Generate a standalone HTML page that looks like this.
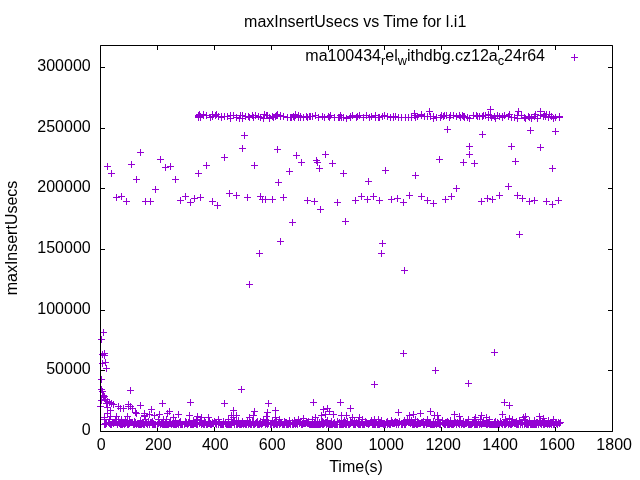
<!DOCTYPE html><html><head><meta charset="utf-8"><style>html,body{margin:0;padding:0;background:#fff;}svg{display:block;will-change:transform;}text{font-family:"Liberation Sans",sans-serif;font-size:16px;fill:#000;}</style></head><body>
<svg width="640" height="480" viewBox="0 0 640 480">
<path d="M100.5 431.5h4.5M612.5 431.5h-4.5M100.5 370.5h4.5M612.5 370.5h-4.5M100.5 310.5h4.5M612.5 310.5h-4.5M100.5 249.5h4.5M612.5 249.5h-4.5M100.5 188.5h4.5M612.5 188.5h-4.5M100.5 128.5h4.5M612.5 128.5h-4.5M100.5 67.5h4.5M612.5 67.5h-4.5M100.5 431.5v-4.5M100.5 45.5v4.5M157.5 431.5v-4.5M157.5 45.5v4.5M214.5 431.5v-4.5M214.5 45.5v4.5M271.5 431.5v-4.5M271.5 45.5v4.5M328.5 431.5v-4.5M328.5 45.5v4.5M384.5 431.5v-4.5M384.5 45.5v4.5M441.5 431.5v-4.5M441.5 45.5v4.5M498.5 431.5v-4.5M498.5 45.5v4.5M555.5 431.5v-4.5M555.5 45.5v4.5M612.5 431.5v-4.5M612.5 45.5v4.5" stroke="#000" stroke-width="1" fill="none"/>
<text x="90.7" y="434.7" text-anchor="end">0</text>
<text x="90.7" y="373.7" text-anchor="end">50000</text>
<text x="90.7" y="313.7" text-anchor="end">100000</text>
<text x="90.7" y="252.7" text-anchor="end">150000</text>
<text x="90.7" y="191.7" text-anchor="end">200000</text>
<text x="90.7" y="131.7" text-anchor="end">250000</text>
<text x="90.7" y="70.7" text-anchor="end">300000</text>
<text x="101.25" y="449.9" text-anchor="middle">0</text>
<text x="158.24" y="449.9" text-anchor="middle">200</text>
<text x="215.23" y="449.9" text-anchor="middle">400</text>
<text x="272.21" y="449.9" text-anchor="middle">600</text>
<text x="329.20" y="449.9" text-anchor="middle">800</text>
<text x="386.19" y="449.9" text-anchor="middle">1000</text>
<text x="443.18" y="449.9" text-anchor="middle">1200</text>
<text x="500.17" y="449.9" text-anchor="middle">1400</text>
<text x="557.15" y="449.9" text-anchor="middle">1600</text>
<text x="614.14" y="449.9" text-anchor="middle">1800</text>
<text x="355.2" y="27" text-anchor="middle">maxInsertUsecs vs Time for l.i1</text>
<text x="356" y="472" text-anchor="middle">Time(s)</text>
<text transform="translate(17,238) rotate(-90)" text-anchor="middle">maxInsertUsecs</text>
<text x="545" y="61" text-anchor="end">ma100434<tspan dy="4" font-size="12.8px">r</tspan><tspan dy="-4">el</tspan><tspan dy="4" font-size="12.8px">w</tspan><tspan dy="-4">ithdbg.cz12a</tspan><tspan dy="4" font-size="12.8px">c</tspan><tspan dy="-4">24r64</tspan></text>
<path d="M571 57.5h7M574.5 54v7M104 166.5h7M107.5 163v7M108 173.5h7M111.5 170v7M113 197.5h7M116.5 194v7M118 196.5h7M121.5 193v7M123 201.5h7M126.5 198v7M128 164.5h7M131.5 161v7M133 179.5h7M136.5 176v7M137 152.5h7M140.5 149v7M142 201.5h7M145.5 198v7M147 201.5h7M150.5 198v7M152 189.5h7M155.5 186v7M157 159.5h7M160.5 156v7M162 167.5h7M165.5 164v7M167 166.5h7M170.5 163v7M172 179.5h7M175.5 176v7M177 200.5h7M180.5 197v7M182 196.5h7M185.5 193v7M187 202.5h7M190.5 199v7M191 198.5h7M194.5 195v7M197 197.5h7M200.5 194v7M195 173.5h7M198.5 170v7M203 165.5h7M206.5 162v7M209 201.5h7M212.5 198v7M214 205.5h7M217.5 202v7M241 135.5h7M244.5 132v7M239 148.5h7M242.5 145v7M221 157.5h7M224.5 154v7M251 165.5h7M254.5 162v7M274 149.5h7M277.5 146v7M293 155.5h7M296.5 152v7M298 162.5h7M301.5 159v7M313 160.5h7M316.5 157v7M314 162.5h7M317.5 159v7M322 154.5h7M325.5 151v7M329 163.5h7M332.5 160v7M316 168.5h7M319.5 165v7M286 171.5h7M289.5 168v7M275 182.5h7M278.5 179v7M226 193.5h7M229.5 190v7M233 195.5h7M236.5 192v7M244 197.5h7M247.5 194v7M257 196.5h7M260.5 193v7M259 199.5h7M262.5 196v7M262 199.5h7M265.5 196v7M269 199.5h7M272.5 196v7M280 197.5h7M283.5 194v7M304 200.5h7M307.5 197v7M311 201.5h7M314.5 198v7M317 209.5h7M320.5 206v7M334 202.5h7M337.5 199v7M444 129.5h7M447.5 126v7M436 159.5h7M439.5 156v7M340 173.5h7M343.5 170v7M382 170.5h7M385.5 167v7M365 181.5h7M368.5 178v7M412 175.5h7M415.5 172v7M453 188.5h7M456.5 185v7M352 200.5h7M355.5 197v7M358 196.5h7M361.5 193v7M364 199.5h7M367.5 196v7M370 196.5h7M373.5 193v7M376 200.5h7M379.5 197v7M388 199.5h7M391.5 196v7M394 198.5h7M397.5 195v7M400 202.5h7M403.5 199v7M406 195.5h7M409.5 192v7M418 196.5h7M421.5 193v7M424 200.5h7M427.5 197v7M430 203.5h7M433.5 200v7M442 199.5h7M445.5 196v7M448 196.5h7M451.5 193v7M479 134.5h7M482.5 131v7M466 146.5h7M469.5 143v7M466 154.5h7M469.5 151v7M460 162.5h7M463.5 159v7M471 163.5h7M474.5 160v7M527 130.5h7M530.5 127v7M552 131.5h7M555.5 128v7M508 146.5h7M511.5 143v7M537 147.5h7M540.5 144v7M512 161.5h7M515.5 158v7M549 168.5h7M552.5 165v7M505 186.5h7M508.5 183v7M478 201.5h7M481.5 198v7M484 198.5h7M487.5 195v7M489 199.5h7M492.5 196v7M496 195.5h7M499.5 192v7M514 195.5h7M517.5 192v7M519 198.5h7M522.5 195v7M526 201.5h7M529.5 198v7M531 200.5h7M534.5 197v7M543 201.5h7M546.5 198v7M549 204.5h7M552.5 201v7M555 200.5h7M558.5 197v7M289 222.5h7M292.5 219v7M277 241.5h7M280.5 238v7M256 253.5h7M259.5 250v7M246 284.5h7M249.5 281v7M342 221.5h7M345.5 218v7M379 243.5h7M382.5 240v7M378 253.5h7M381.5 250v7M401 270.5h7M404.5 267v7M516 234.5h7M519.5 231v7M100 332.5h7M103.5 329v7M98 339.5h7M101.5 336v7M99 354.5h7M102.5 351v7M101 353.5h7M104.5 350v7M101 355.5h7M104.5 352v7M99 363.5h7M102.5 360v7M102 362.5h7M105.5 359v7M103 368.5h7M106.5 365v7M98 379.5h7M101.5 376v7M127 390.5h7M130.5 387v7M238 389.5h7M241.5 386v7M400 353.5h7M403.5 350v7M432 370.5h7M435.5 367v7M371 384.5h7M374.5 381v7M491 352.5h7M494.5 349v7M465 383.5h7M468.5 380v7M426 111.5h7M429.5 108v7M487 109.5h7M490.5 106v7M515 111.5h7M518.5 108v7M537 111.5h7M540.5 108v7M411 113.5h7M414.5 110v7M98 389.5h7M101.5 386v7M99 391.5h7M102.5 388v7M137 405.5h7M140.5 402v7M159 403.5h7M162.5 400v7M148 409.5h7M151.5 406v7M166 411.5h7M169.5 408v7M170 417.5h7M173.5 414v7M141 413.5h7M144.5 410v7M133 413.5h7M136.5 410v7M187 402.5h7M190.5 399v7M175 414.5h7M178.5 411v7M186 415.5h7M189.5 412v7M194 416.5h7M197.5 413v7M198 417.5h7M201.5 414v7M205 417.5h7M208.5 414v7M221 403.5h7M224.5 400v7M230 410.5h7M233.5 407v7M251 411.5h7M254.5 408v7M228 415.5h7M231.5 412v7M233 415.5h7M236.5 412v7M230 417.5h7M233.5 414v7M246 417.5h7M249.5 414v7M250 415.5h7M253.5 412v7M265 403.5h7M268.5 400v7M272 410.5h7M275.5 407v7M264 412.5h7M267.5 409v7M263 416.5h7M266.5 413v7M272 417.5h7M275.5 414v7M310 402.5h7M313.5 399v7M320 409.5h7M323.5 406v7M324 408.5h7M327.5 405v7M326 411.5h7M329.5 408v7M318 415.5h7M321.5 412v7M330 414.5h7M333.5 411v7M312 417.5h7M315.5 414v7M300 418.5h7M303.5 415v7M322 414.5h7M325.5 411v7M337 402.5h7M340.5 399v7M347 408.5h7M350.5 405v7M338 415.5h7M341.5 412v7M343 415.5h7M346.5 412v7M349 417.5h7M352.5 414v7M356 417.5h7M359.5 414v7M395 412.5h7M398.5 409v7M406 415.5h7M409.5 412v7M410 414.5h7M413.5 411v7M417 413.5h7M420.5 410v7M427 411.5h7M430.5 408v7M431 415.5h7M434.5 412v7M434 415.5h7M437.5 412v7M451 414.5h7M454.5 411v7M456 416.5h7M459.5 413v7M478 415.5h7M481.5 412v7M472 417.5h7M475.5 414v7M483 417.5h7M486.5 414v7M501 402.5h7M504.5 399v7M506 405.5h7M509.5 402v7M499 414.5h7M502.5 411v7M522 416.5h7M525.5 413v7M520 417.5h7M523.5 414v7M506 418.5h7M509.5 415v7M536 416.5h7M539.5 413v7M540 418.5h7M543.5 415v7M141 416.5h7M144.5 413v7M146 414.5h7M149.5 411v7M151 415.5h7M154.5 412v7M156 414.5h7M159.5 411v7M164 413.5h7M167.5 410v7M195 116.5h7M198.5 113v7M196 114.5h7M199.5 111v7M197 116.5h7M200.5 113v7M197 117.5h7M200.5 114v7M200 115.5h7M203.5 112v7M200 114.5h7M203.5 111v7M203 115.5h7M206.5 112v7M207 117.5h7M210.5 114v7M209 116.5h7M212.5 113v7M209 114.5h7M212.5 111v7M212 115.5h7M215.5 112v7M213 114.5h7M216.5 111v7M215 116.5h7M218.5 113v7M218 116.5h7M221.5 113v7M218 117.5h7M221.5 114v7M221 116.5h7M224.5 113v7M224 116.5h7M227.5 113v7M227 118.5h7M230.5 115v7M227 115.5h7M230.5 112v7M230 115.5h7M233.5 112v7M233 117.5h7M236.5 114v7M236 118.5h7M239.5 115v7M237 115.5h7M240.5 112v7M239 115.5h7M242.5 112v7M239 118.5h7M242.5 115v7M242 116.5h7M245.5 113v7M245 116.5h7M248.5 113v7M246 117.5h7M249.5 114v7M249 115.5h7M252.5 112v7M250 117.5h7M253.5 114v7M252 115.5h7M255.5 112v7M255 116.5h7M258.5 113v7M257 117.5h7M260.5 114v7M260 118.5h7M263.5 115v7M261 114.5h7M264.5 111v7M263 115.5h7M266.5 112v7M264 115.5h7M267.5 112v7M266 118.5h7M269.5 115v7M266 117.5h7M269.5 114v7M269 116.5h7M272.5 113v7M270 117.5h7M273.5 114v7M272 116.5h7M275.5 113v7M273 115.5h7M276.5 112v7M274 115.5h7M277.5 112v7M274 114.5h7M277.5 111v7M277 116.5h7M280.5 113v7M277 115.5h7M280.5 112v7M280 116.5h7M283.5 113v7M284 117.5h7M287.5 114v7M287 117.5h7M290.5 114v7M288 117.5h7M291.5 114v7M290 116.5h7M293.5 113v7M291 117.5h7M294.5 114v7M292 115.5h7M295.5 112v7M292 114.5h7M295.5 111v7M295 115.5h7M298.5 112v7M295 117.5h7M298.5 114v7M297 116.5h7M300.5 113v7M297 117.5h7M300.5 114v7M300 117.5h7M303.5 114v7M303 116.5h7M306.5 113v7M304 117.5h7M307.5 114v7M306 116.5h7M309.5 113v7M307 116.5h7M310.5 113v7M309 116.5h7M312.5 113v7M312 115.5h7M315.5 112v7M315 117.5h7M318.5 114v7M319 116.5h7M322.5 113v7M321 117.5h7M324.5 114v7M325 116.5h7M328.5 113v7M326 117.5h7M329.5 114v7M327 115.5h7M330.5 112v7M331 117.5h7M334.5 114v7M335 117.5h7M338.5 114v7M336 117.5h7M339.5 114v7M337 115.5h7M340.5 112v7M338 117.5h7M341.5 114v7M340 117.5h7M343.5 114v7M343 118.5h7M346.5 115v7M347 116.5h7M350.5 113v7M347 117.5h7M350.5 114v7M349 115.5h7M352.5 112v7M353 117.5h7M356.5 114v7M354 116.5h7M357.5 113v7M356 115.5h7M359.5 112v7M360 117.5h7M363.5 114v7M363 115.5h7M366.5 112v7M366 117.5h7M369.5 114v7M368 116.5h7M371.5 113v7M372 115.5h7M375.5 112v7M372 117.5h7M375.5 114v7M375 117.5h7M378.5 114v7M376 117.5h7M379.5 114v7M379 116.5h7M382.5 113v7M381 115.5h7M384.5 112v7M384 116.5h7M387.5 113v7M387 117.5h7M390.5 114v7M390 116.5h7M393.5 113v7M390 117.5h7M393.5 114v7M392 116.5h7M395.5 113v7M395 117.5h7M398.5 114v7M398 117.5h7M401.5 114v7M402 117.5h7M405.5 114v7M402 117.5h7M405.5 114v7M405 117.5h7M408.5 114v7M408 117.5h7M411.5 114v7M408 117.5h7M411.5 114v7M411 115.5h7M414.5 112v7M412 117.5h7M415.5 114v7M414 116.5h7M417.5 113v7M418 115.5h7M421.5 112v7M418 114.5h7M421.5 111v7M421 116.5h7M424.5 113v7M424 116.5h7M427.5 113v7M427 116.5h7M430.5 113v7M430 116.5h7M433.5 113v7M430 118.5h7M433.5 115v7M433 117.5h7M436.5 114v7M437 117.5h7M440.5 114v7M438 115.5h7M441.5 112v7M440 116.5h7M443.5 113v7M441 115.5h7M444.5 112v7M443 115.5h7M446.5 112v7M443 115.5h7M446.5 112v7M446 117.5h7M449.5 114v7M447 115.5h7M450.5 112v7M450 115.5h7M453.5 112v7M453 116.5h7M456.5 113v7M456 115.5h7M459.5 112v7M457 117.5h7M460.5 114v7M459 115.5h7M462.5 112v7M460 116.5h7M463.5 113v7M461 116.5h7M464.5 113v7M461 117.5h7M464.5 114v7M464 117.5h7M467.5 114v7M466 118.5h7M469.5 115v7M470 115.5h7M473.5 112v7M470 115.5h7M473.5 112v7M473 115.5h7M476.5 112v7M474 116.5h7M477.5 113v7M476 116.5h7M479.5 113v7M479 116.5h7M482.5 113v7M480 115.5h7M483.5 112v7M482 115.5h7M485.5 112v7M485 117.5h7M488.5 114v7M485 114.5h7M488.5 111v7M487 115.5h7M490.5 112v7M488 117.5h7M491.5 114v7M491 116.5h7M494.5 113v7M492 118.5h7M495.5 115v7M494 115.5h7M497.5 112v7M494 115.5h7M497.5 112v7M496 116.5h7M499.5 113v7M496 116.5h7M499.5 113v7M499 117.5h7M502.5 114v7M499 116.5h7M502.5 113v7M501 115.5h7M504.5 112v7M505 116.5h7M508.5 113v7M506 114.5h7M509.5 111v7M508 117.5h7M511.5 114v7M511 117.5h7M514.5 114v7M514 115.5h7M517.5 112v7M514 118.5h7M517.5 115v7M518 115.5h7M521.5 112v7M521 117.5h7M524.5 114v7M522 118.5h7M525.5 115v7M525 116.5h7M528.5 113v7M526 117.5h7M529.5 114v7M528 117.5h7M531.5 114v7M528 118.5h7M531.5 115v7M531 116.5h7M534.5 113v7M532 114.5h7M535.5 111v7M534 118.5h7M537.5 115v7M537 115.5h7M540.5 112v7M540 116.5h7M543.5 113v7M541 114.5h7M544.5 111v7M542 116.5h7M545.5 113v7M543 114.5h7M546.5 111v7M545 117.5h7M548.5 114v7M546 114.5h7M549.5 111v7M548 116.5h7M551.5 113v7M550 118.5h7M553.5 115v7M552 117.5h7M555.5 114v7M556 117.5h7M559.5 114v7M195 115.5h7M198.5 112v7M195 117.5h7M198.5 114v7M556 116.5h7M559.5 113v7M101 424.5h7M104.5 421v7M102 423.5h7M105.5 420v7M102 424.5h7M105.5 421v7M103 423.5h7M106.5 420v7M105 422.5h7M108.5 419v7M106 423.5h7M109.5 420v7M106 422.5h7M109.5 419v7M107 424.5h7M110.5 421v7M108 424.5h7M111.5 421v7M109 422.5h7M112.5 419v7M110 423.5h7M113.5 420v7M110 422.5h7M113.5 419v7M111 422.5h7M114.5 419v7M112 422.5h7M115.5 419v7M113 422.5h7M116.5 419v7M114 424.5h7M117.5 421v7M115 422.5h7M118.5 419v7M116 423.5h7M119.5 420v7M117 423.5h7M120.5 420v7M117 424.5h7M120.5 421v7M118 424.5h7M121.5 421v7M119 424.5h7M122.5 421v7M120 423.5h7M123.5 420v7M120 423.5h7M123.5 420v7M121 424.5h7M124.5 421v7M122 423.5h7M125.5 420v7M122 422.5h7M125.5 419v7M123 422.5h7M126.5 419v7M124 424.5h7M127.5 421v7M125 424.5h7M128.5 421v7M125 424.5h7M128.5 421v7M126 423.5h7M129.5 420v7M127 422.5h7M130.5 419v7M128 422.5h7M131.5 419v7M129 422.5h7M132.5 419v7M130 424.5h7M133.5 421v7M131 424.5h7M134.5 421v7M132 423.5h7M135.5 420v7M132 422.5h7M135.5 419v7M133 424.5h7M136.5 421v7M134 423.5h7M137.5 420v7M135 424.5h7M138.5 421v7M136 424.5h7M139.5 421v7M136 424.5h7M139.5 421v7M137 423.5h7M140.5 420v7M137 424.5h7M140.5 421v7M138 424.5h7M141.5 421v7M139 423.5h7M142.5 420v7M140 424.5h7M143.5 421v7M140 424.5h7M143.5 421v7M141 424.5h7M144.5 421v7M142 422.5h7M145.5 419v7M143 423.5h7M146.5 420v7M144 424.5h7M147.5 421v7M145 422.5h7M148.5 419v7M145 422.5h7M148.5 419v7M146 424.5h7M149.5 421v7M147 422.5h7M150.5 419v7M148 422.5h7M151.5 419v7M149 424.5h7M152.5 421v7M150 423.5h7M153.5 420v7M150 424.5h7M153.5 421v7M151 424.5h7M154.5 421v7M151 424.5h7M154.5 421v7M152 424.5h7M155.5 421v7M154 424.5h7M157.5 421v7M155 423.5h7M158.5 420v7M156 422.5h7M159.5 419v7M157 424.5h7M160.5 421v7M158 423.5h7M161.5 420v7M159 424.5h7M162.5 421v7M159 423.5h7M162.5 420v7M160 424.5h7M163.5 421v7M161 424.5h7M164.5 421v7M161 424.5h7M164.5 421v7M162 423.5h7M165.5 420v7M162 424.5h7M165.5 421v7M163 423.5h7M166.5 420v7M163 424.5h7M166.5 421v7M164 424.5h7M167.5 421v7M165 424.5h7M168.5 421v7M166 423.5h7M169.5 420v7M167 423.5h7M170.5 420v7M167 422.5h7M170.5 419v7M168 424.5h7M171.5 421v7M169 423.5h7M172.5 420v7M170 424.5h7M173.5 421v7M170 423.5h7M173.5 420v7M171 424.5h7M174.5 421v7M172 424.5h7M175.5 421v7M173 424.5h7M176.5 421v7M173 423.5h7M176.5 420v7M174 423.5h7M177.5 420v7M175 424.5h7M178.5 421v7M175 424.5h7M178.5 421v7M176 422.5h7M179.5 419v7M177 424.5h7M180.5 421v7M178 424.5h7M181.5 421v7M179 424.5h7M182.5 421v7M179 424.5h7M182.5 421v7M181 424.5h7M184.5 421v7M182 423.5h7M185.5 420v7M183 423.5h7M186.5 420v7M183 422.5h7M186.5 419v7M184 424.5h7M187.5 421v7M185 422.5h7M188.5 419v7M185 423.5h7M188.5 420v7M186 422.5h7M189.5 419v7M187 424.5h7M190.5 421v7M188 424.5h7M191.5 421v7M189 424.5h7M192.5 421v7M190 422.5h7M193.5 419v7M190 424.5h7M193.5 421v7M191 423.5h7M194.5 420v7M192 423.5h7M195.5 420v7M193 422.5h7M196.5 419v7M193 424.5h7M196.5 421v7M194 424.5h7M197.5 421v7M196 423.5h7M199.5 420v7M196 423.5h7M199.5 420v7M197 422.5h7M200.5 419v7M198 424.5h7M201.5 421v7M199 423.5h7M202.5 420v7M200 424.5h7M203.5 421v7M200 423.5h7M203.5 420v7M201 424.5h7M204.5 421v7M202 422.5h7M205.5 419v7M203 424.5h7M206.5 421v7M203 424.5h7M206.5 421v7M204 424.5h7M207.5 421v7M205 422.5h7M208.5 419v7M205 423.5h7M208.5 420v7M206 423.5h7M209.5 420v7M207 423.5h7M210.5 420v7M207 424.5h7M210.5 421v7M208 424.5h7M211.5 421v7M209 423.5h7M212.5 420v7M209 422.5h7M212.5 419v7M210 423.5h7M213.5 420v7M212 422.5h7M215.5 419v7M212 423.5h7M215.5 420v7M213 422.5h7M216.5 419v7M213 424.5h7M216.5 421v7M215 424.5h7M218.5 421v7M216 422.5h7M219.5 419v7M217 424.5h7M220.5 421v7M217 424.5h7M220.5 421v7M218 424.5h7M221.5 421v7M219 424.5h7M222.5 421v7M220 422.5h7M223.5 419v7M220 424.5h7M223.5 421v7M220 424.5h7M223.5 421v7M222 422.5h7M225.5 419v7M222 423.5h7M225.5 420v7M223 424.5h7M226.5 421v7M224 424.5h7M227.5 421v7M225 424.5h7M228.5 421v7M225 424.5h7M228.5 421v7M226 424.5h7M229.5 421v7M227 424.5h7M230.5 421v7M227 424.5h7M230.5 421v7M228 424.5h7M231.5 421v7M228 422.5h7M231.5 419v7M229 422.5h7M232.5 419v7M230 422.5h7M233.5 419v7M231 424.5h7M234.5 421v7M231 424.5h7M234.5 421v7M233 422.5h7M236.5 419v7M233 424.5h7M236.5 421v7M234 424.5h7M237.5 421v7M235 422.5h7M238.5 419v7M235 423.5h7M238.5 420v7M236 424.5h7M239.5 421v7M237 424.5h7M240.5 421v7M238 424.5h7M241.5 421v7M239 423.5h7M242.5 420v7M240 423.5h7M243.5 420v7M240 424.5h7M243.5 421v7M241 423.5h7M244.5 420v7M242 424.5h7M245.5 421v7M243 424.5h7M246.5 421v7M244 422.5h7M247.5 419v7M245 424.5h7M248.5 421v7M246 423.5h7M249.5 420v7M247 422.5h7M250.5 419v7M247 424.5h7M250.5 421v7M248 424.5h7M251.5 421v7M249 422.5h7M252.5 419v7M250 422.5h7M253.5 419v7M250 424.5h7M253.5 421v7M251 424.5h7M254.5 421v7M252 423.5h7M255.5 420v7M252 423.5h7M255.5 420v7M253 422.5h7M256.5 419v7M254 424.5h7M257.5 421v7M255 424.5h7M258.5 421v7M256 424.5h7M259.5 421v7M256 423.5h7M259.5 420v7M257 423.5h7M260.5 420v7M257 423.5h7M260.5 420v7M258 424.5h7M261.5 421v7M259 423.5h7M262.5 420v7M259 423.5h7M262.5 420v7M260 422.5h7M263.5 419v7M261 422.5h7M264.5 419v7M262 424.5h7M265.5 421v7M263 423.5h7M266.5 420v7M264 424.5h7M267.5 421v7M264 424.5h7M267.5 421v7M265 422.5h7M268.5 419v7M265 423.5h7M268.5 420v7M267 424.5h7M270.5 421v7M267 423.5h7M270.5 420v7M268 424.5h7M271.5 421v7M269 422.5h7M272.5 419v7M270 424.5h7M273.5 421v7M270 424.5h7M273.5 421v7M271 422.5h7M274.5 419v7M271 424.5h7M274.5 421v7M272 423.5h7M275.5 420v7M273 424.5h7M276.5 421v7M274 424.5h7M277.5 421v7M274 424.5h7M277.5 421v7M275 422.5h7M278.5 419v7M276 424.5h7M279.5 421v7M276 422.5h7M279.5 419v7M277 423.5h7M280.5 420v7M278 422.5h7M281.5 419v7M279 424.5h7M282.5 421v7M280 424.5h7M283.5 421v7M281 424.5h7M284.5 421v7M282 422.5h7M285.5 419v7M283 424.5h7M286.5 421v7M283 422.5h7M286.5 419v7M284 424.5h7M287.5 421v7M285 424.5h7M288.5 421v7M286 423.5h7M289.5 420v7M287 424.5h7M290.5 421v7M289 424.5h7M292.5 421v7M289 422.5h7M292.5 419v7M290 424.5h7M293.5 421v7M291 423.5h7M294.5 420v7M291 422.5h7M294.5 419v7M292 424.5h7M295.5 421v7M292 424.5h7M295.5 421v7M293 423.5h7M296.5 420v7M294 424.5h7M297.5 421v7M294 423.5h7M297.5 420v7M296 422.5h7M299.5 419v7M296 423.5h7M299.5 420v7M297 422.5h7M300.5 419v7M298 424.5h7M301.5 421v7M299 424.5h7M302.5 421v7M299 423.5h7M302.5 420v7M300 423.5h7M303.5 420v7M301 423.5h7M304.5 420v7M302 423.5h7M305.5 420v7M303 422.5h7M306.5 419v7M304 423.5h7M307.5 420v7M304 422.5h7M307.5 419v7M305 423.5h7M308.5 420v7M305 422.5h7M308.5 419v7M306 424.5h7M309.5 421v7M307 424.5h7M310.5 421v7M308 424.5h7M311.5 421v7M308 424.5h7M311.5 421v7M309 424.5h7M312.5 421v7M310 424.5h7M313.5 421v7M311 424.5h7M314.5 421v7M311 422.5h7M314.5 419v7M312 424.5h7M315.5 421v7M313 424.5h7M316.5 421v7M314 424.5h7M317.5 421v7M315 424.5h7M318.5 421v7M316 422.5h7M319.5 419v7M316 424.5h7M319.5 421v7M317 424.5h7M320.5 421v7M318 422.5h7M321.5 419v7M318 423.5h7M321.5 420v7M319 424.5h7M322.5 421v7M320 422.5h7M323.5 419v7M320 424.5h7M323.5 421v7M321 423.5h7M324.5 420v7M322 422.5h7M325.5 419v7M323 422.5h7M326.5 419v7M323 424.5h7M326.5 421v7M324 423.5h7M327.5 420v7M325 423.5h7M328.5 420v7M325 424.5h7M328.5 421v7M326 424.5h7M329.5 421v7M327 424.5h7M330.5 421v7M328 424.5h7M331.5 421v7M328 424.5h7M331.5 421v7M329 424.5h7M332.5 421v7M330 423.5h7M333.5 420v7M331 422.5h7M334.5 419v7M331 424.5h7M334.5 421v7M332 424.5h7M335.5 421v7M333 424.5h7M336.5 421v7M333 424.5h7M336.5 421v7M334 422.5h7M337.5 419v7M334 424.5h7M337.5 421v7M336 424.5h7M339.5 421v7M336 422.5h7M339.5 419v7M337 424.5h7M340.5 421v7M338 424.5h7M341.5 421v7M339 424.5h7M342.5 421v7M340 424.5h7M343.5 421v7M340 422.5h7M343.5 419v7M341 423.5h7M344.5 420v7M342 422.5h7M345.5 419v7M342 424.5h7M345.5 421v7M343 424.5h7M346.5 421v7M344 422.5h7M347.5 419v7M345 424.5h7M348.5 421v7M346 424.5h7M349.5 421v7M346 424.5h7M349.5 421v7M347 423.5h7M350.5 420v7M348 422.5h7M351.5 419v7M349 422.5h7M352.5 419v7M350 424.5h7M353.5 421v7M350 424.5h7M353.5 421v7M351 424.5h7M354.5 421v7M352 423.5h7M355.5 420v7M352 424.5h7M355.5 421v7M353 422.5h7M356.5 419v7M354 423.5h7M357.5 420v7M355 424.5h7M358.5 421v7M355 423.5h7M358.5 420v7M356 424.5h7M359.5 421v7M357 424.5h7M360.5 421v7M358 422.5h7M361.5 419v7M359 424.5h7M362.5 421v7M360 424.5h7M363.5 421v7M361 424.5h7M364.5 421v7M362 422.5h7M365.5 419v7M362 422.5h7M365.5 419v7M363 423.5h7M366.5 420v7M363 422.5h7M366.5 419v7M364 423.5h7M367.5 420v7M364 423.5h7M367.5 420v7M365 424.5h7M368.5 421v7M366 423.5h7M369.5 420v7M367 422.5h7M370.5 419v7M368 422.5h7M371.5 419v7M369 424.5h7M372.5 421v7M370 422.5h7M373.5 419v7M370 424.5h7M373.5 421v7M371 424.5h7M374.5 421v7M372 424.5h7M375.5 421v7M372 422.5h7M375.5 419v7M373 422.5h7M376.5 419v7M374 424.5h7M377.5 421v7M375 424.5h7M378.5 421v7M375 424.5h7M378.5 421v7M376 424.5h7M379.5 421v7M377 423.5h7M380.5 420v7M377 422.5h7M380.5 419v7M378 423.5h7M381.5 420v7M379 423.5h7M382.5 420v7M380 424.5h7M383.5 421v7M381 424.5h7M384.5 421v7M381 423.5h7M384.5 420v7M382 424.5h7M385.5 421v7M383 422.5h7M386.5 419v7M384 424.5h7M387.5 421v7M385 423.5h7M388.5 420v7M386 424.5h7M389.5 421v7M387 424.5h7M390.5 421v7M388 422.5h7M391.5 419v7M389 423.5h7M392.5 420v7M389 422.5h7M392.5 419v7M390 423.5h7M393.5 420v7M391 423.5h7M394.5 420v7M391 422.5h7M394.5 419v7M392 422.5h7M395.5 419v7M393 422.5h7M396.5 419v7M393 424.5h7M396.5 421v7M394 422.5h7M397.5 419v7M395 424.5h7M398.5 421v7M395 423.5h7M398.5 420v7M396 422.5h7M399.5 419v7M396 422.5h7M399.5 419v7M398 424.5h7M401.5 421v7M398 423.5h7M401.5 420v7M399 423.5h7M402.5 420v7M399 424.5h7M402.5 421v7M400 422.5h7M403.5 419v7M401 424.5h7M404.5 421v7M401 424.5h7M404.5 421v7M402 424.5h7M405.5 421v7M403 422.5h7M406.5 419v7M405 422.5h7M408.5 419v7M405 422.5h7M408.5 419v7M406 422.5h7M409.5 419v7M407 423.5h7M410.5 420v7M408 422.5h7M411.5 419v7M409 424.5h7M412.5 421v7M409 422.5h7M412.5 419v7M410 424.5h7M413.5 421v7M411 422.5h7M414.5 419v7M411 424.5h7M414.5 421v7M412 423.5h7M415.5 420v7M413 424.5h7M416.5 421v7M414 424.5h7M417.5 421v7M415 423.5h7M418.5 420v7M416 423.5h7M419.5 420v7M417 423.5h7M420.5 420v7M418 422.5h7M421.5 419v7M419 422.5h7M422.5 419v7M420 422.5h7M423.5 419v7M420 424.5h7M423.5 421v7M421 424.5h7M424.5 421v7M422 422.5h7M425.5 419v7M423 422.5h7M426.5 419v7M423 424.5h7M426.5 421v7M424 423.5h7M427.5 420v7M425 423.5h7M428.5 420v7M426 423.5h7M429.5 420v7M427 422.5h7M430.5 419v7M427 424.5h7M430.5 421v7M428 424.5h7M431.5 421v7M429 424.5h7M432.5 421v7M430 424.5h7M433.5 421v7M431 424.5h7M434.5 421v7M432 423.5h7M435.5 420v7M432 423.5h7M435.5 420v7M433 424.5h7M436.5 421v7M434 423.5h7M437.5 420v7M435 423.5h7M438.5 420v7M436 424.5h7M439.5 421v7M436 424.5h7M439.5 421v7M437 424.5h7M440.5 421v7M439 422.5h7M442.5 419v7M439 422.5h7M442.5 419v7M440 423.5h7M443.5 420v7M441 424.5h7M444.5 421v7M442 424.5h7M445.5 421v7M442 422.5h7M445.5 419v7M443 422.5h7M446.5 419v7M444 424.5h7M447.5 421v7M445 422.5h7M448.5 419v7M445 424.5h7M448.5 421v7M446 424.5h7M449.5 421v7M447 423.5h7M450.5 420v7M448 424.5h7M451.5 421v7M448 423.5h7M451.5 420v7M449 424.5h7M452.5 421v7M450 424.5h7M453.5 421v7M451 423.5h7M454.5 420v7M452 422.5h7M455.5 419v7M453 424.5h7M456.5 421v7M454 422.5h7M457.5 419v7M455 423.5h7M458.5 420v7M456 423.5h7M459.5 420v7M456 424.5h7M459.5 421v7M457 422.5h7M460.5 419v7M458 424.5h7M461.5 421v7M459 423.5h7M462.5 420v7M460 424.5h7M463.5 421v7M461 424.5h7M464.5 421v7M462 422.5h7M465.5 419v7M462 423.5h7M465.5 420v7M463 423.5h7M466.5 420v7M464 422.5h7M467.5 419v7M465 424.5h7M468.5 421v7M466 424.5h7M469.5 421v7M467 424.5h7M470.5 421v7M467 424.5h7M470.5 421v7M468 424.5h7M471.5 421v7M469 423.5h7M472.5 420v7M470 422.5h7M473.5 419v7M471 424.5h7M474.5 421v7M472 424.5h7M475.5 421v7M472 424.5h7M475.5 421v7M473 422.5h7M476.5 419v7M473 424.5h7M476.5 421v7M474 424.5h7M477.5 421v7M475 422.5h7M478.5 419v7M476 424.5h7M479.5 421v7M477 423.5h7M480.5 420v7M478 424.5h7M481.5 421v7M479 423.5h7M482.5 420v7M479 422.5h7M482.5 419v7M480 423.5h7M483.5 420v7M481 423.5h7M484.5 420v7M482 423.5h7M485.5 420v7M483 424.5h7M486.5 421v7M484 424.5h7M487.5 421v7M485 423.5h7M488.5 420v7M486 424.5h7M489.5 421v7M486 423.5h7M489.5 420v7M487 424.5h7M490.5 421v7M488 424.5h7M491.5 421v7M489 424.5h7M492.5 421v7M489 424.5h7M492.5 421v7M490 424.5h7M493.5 421v7M491 424.5h7M494.5 421v7M491 422.5h7M494.5 419v7M492 424.5h7M495.5 421v7M493 424.5h7M496.5 421v7M494 422.5h7M497.5 419v7M494 424.5h7M497.5 421v7M495 423.5h7M498.5 420v7M496 424.5h7M499.5 421v7M497 422.5h7M500.5 419v7M498 423.5h7M501.5 420v7M499 424.5h7M502.5 421v7M500 422.5h7M503.5 419v7M501 423.5h7M504.5 420v7M501 424.5h7M504.5 421v7M502 423.5h7M505.5 420v7M502 424.5h7M505.5 421v7M503 423.5h7M506.5 420v7M504 422.5h7M507.5 419v7M505 424.5h7M508.5 421v7M506 423.5h7M509.5 420v7M507 424.5h7M510.5 421v7M508 422.5h7M511.5 419v7M508 424.5h7M511.5 421v7M509 423.5h7M512.5 420v7M510 422.5h7M513.5 419v7M511 423.5h7M514.5 420v7M512 423.5h7M515.5 420v7M513 422.5h7M516.5 419v7M513 424.5h7M516.5 421v7M514 424.5h7M517.5 421v7M515 424.5h7M518.5 421v7M515 424.5h7M518.5 421v7M517 422.5h7M520.5 419v7M517 424.5h7M520.5 421v7M518 422.5h7M521.5 419v7M519 422.5h7M522.5 419v7M519 424.5h7M522.5 421v7M521 422.5h7M524.5 419v7M521 424.5h7M524.5 421v7M522 423.5h7M525.5 420v7M523 424.5h7M526.5 421v7M524 424.5h7M527.5 421v7M524 424.5h7M527.5 421v7M525 423.5h7M528.5 420v7M525 424.5h7M528.5 421v7M526 422.5h7M529.5 419v7M527 424.5h7M530.5 421v7M528 424.5h7M531.5 421v7M529 424.5h7M532.5 421v7M530 424.5h7M533.5 421v7M531 424.5h7M534.5 421v7M532 424.5h7M535.5 421v7M533 424.5h7M536.5 421v7M533 422.5h7M536.5 419v7M534 422.5h7M537.5 419v7M535 424.5h7M538.5 421v7M536 422.5h7M539.5 419v7M536 422.5h7M539.5 419v7M537 423.5h7M540.5 420v7M538 424.5h7M541.5 421v7M539 422.5h7M542.5 419v7M540 424.5h7M543.5 421v7M541 422.5h7M544.5 419v7M541 424.5h7M544.5 421v7M542 423.5h7M545.5 420v7M543 423.5h7M546.5 420v7M544 424.5h7M547.5 421v7M545 422.5h7M548.5 419v7M545 423.5h7M548.5 420v7M546 424.5h7M549.5 421v7M547 423.5h7M550.5 420v7M548 424.5h7M551.5 421v7M549 422.5h7M552.5 419v7M549 422.5h7M552.5 419v7M550 424.5h7M553.5 421v7M551 424.5h7M554.5 421v7M552 422.5h7M555.5 419v7M553 423.5h7M556.5 420v7M554 424.5h7M557.5 421v7M555 422.5h7M558.5 419v7M556 423.5h7M559.5 420v7M557 422.5h7M560.5 419v7M101 419.5h7M104.5 416v7M106 419.5h7M109.5 416v7M112 419.5h7M115.5 416v7M115 419.5h7M118.5 416v7M118 419.5h7M121.5 416v7M122 420.5h7M125.5 417v7M126 420.5h7M129.5 417v7M131 421.5h7M134.5 418v7M137 420.5h7M140.5 417v7M142 419.5h7M145.5 416v7M145 421.5h7M148.5 418v7M149 421.5h7M152.5 418v7M155 419.5h7M158.5 416v7M160 419.5h7M163.5 416v7M163 419.5h7M166.5 416v7M167 421.5h7M170.5 418v7M172 420.5h7M175.5 417v7M177 421.5h7M180.5 418v7M182 421.5h7M185.5 418v7M186 421.5h7M189.5 418v7M190 420.5h7M193.5 417v7M193 419.5h7M196.5 416v7M197 420.5h7M200.5 417v7M201 421.5h7M204.5 418v7M206 421.5h7M209.5 418v7M211 421.5h7M214.5 418v7M215 419.5h7M218.5 416v7M220 421.5h7M223.5 418v7M225 419.5h7M228.5 416v7M231 421.5h7M234.5 418v7M235 420.5h7M238.5 417v7M239 421.5h7M242.5 418v7M244 420.5h7M247.5 417v7M249 421.5h7M252.5 418v7M254 421.5h7M257.5 418v7M257 421.5h7M260.5 418v7M260 419.5h7M263.5 416v7M264 420.5h7M267.5 417v7M269 420.5h7M272.5 417v7M273 421.5h7M276.5 418v7M276 419.5h7M279.5 416v7M281 421.5h7M284.5 418v7M286 420.5h7M289.5 417v7M291 420.5h7M294.5 417v7M295 419.5h7M298.5 416v7M300 421.5h7M303.5 418v7M305 421.5h7M308.5 418v7M309 419.5h7M312.5 416v7M314 421.5h7M317.5 418v7M319 421.5h7M322.5 418v7M324 420.5h7M327.5 417v7M328 421.5h7M331.5 418v7M334 421.5h7M337.5 418v7M338 420.5h7M341.5 417v7M341 420.5h7M344.5 417v7M344 421.5h7M347.5 418v7M347 421.5h7M350.5 418v7M351 420.5h7M354.5 417v7M355 421.5h7M358.5 418v7M359 419.5h7M362.5 416v7M362 421.5h7M365.5 418v7M368 420.5h7M371.5 417v7M371 419.5h7M374.5 416v7M375 419.5h7M378.5 416v7M378 420.5h7M381.5 417v7M384 421.5h7M387.5 418v7M388 420.5h7M391.5 417v7M392 421.5h7M395.5 418v7M396 421.5h7M399.5 418v7M401 420.5h7M404.5 417v7M404 419.5h7M407.5 416v7M408 420.5h7M411.5 417v7M412 419.5h7M415.5 416v7M414 421.5h7M417.5 418v7M420 421.5h7M423.5 418v7M424 419.5h7M427.5 416v7M430 421.5h7M433.5 418v7M435 419.5h7M438.5 416v7M439 420.5h7M442.5 417v7M444 421.5h7M447.5 418v7M447 420.5h7M450.5 417v7M451 420.5h7M454.5 417v7M457 420.5h7M460.5 417v7M460 421.5h7M463.5 418v7M465 419.5h7M468.5 416v7M471 419.5h7M474.5 416v7M477 419.5h7M480.5 416v7M480 421.5h7M483.5 418v7M483 420.5h7M486.5 417v7M486 419.5h7M489.5 416v7M492 421.5h7M495.5 418v7M497 421.5h7M500.5 418v7M502 419.5h7M505.5 416v7M506 421.5h7M509.5 418v7M509 419.5h7M512.5 416v7M513 421.5h7M516.5 418v7M516 420.5h7M519.5 417v7M521 419.5h7M524.5 416v7M526 420.5h7M529.5 417v7M531 420.5h7M534.5 417v7M537 420.5h7M540.5 417v7M539 421.5h7M542.5 418v7M545 420.5h7M548.5 417v7M550 419.5h7M553.5 416v7M100 395.5h7M103.5 392v7M100 397.5h7M103.5 394v7M102 399.5h7M105.5 396v7M104 401.5h7M107.5 398v7M106 402.5h7M109.5 399v7M108 403.5h7M111.5 400v7M110 404.5h7M113.5 401v7M101 396.5h7M104.5 393v7M98 400.5h7M101.5 397v7M97 406.5h7M100.5 403v7M115 406.5h7M118.5 403v7M117 408.5h7M120.5 405v7M120 408.5h7M123.5 405v7M125 404.5h7M128.5 401v7M127 406.5h7M130.5 403v7M129 408.5h7M132.5 405v7M132 412.5h7M135.5 409v7M125 406.5h7M128.5 403v7M104 407.5h7M107.5 404v7M107 410.5h7M110.5 407v7M104 413.5h7M107.5 410v7M101 417.5h7M104.5 414v7M107 416.5h7M110.5 413v7M113 416.5h7M116.5 413v7M124 416.5h7M127.5 413v7M141 415.5h7M144.5 412v7M103 403.5h7M106.5 400v7" stroke="#9400d3" stroke-width="1" fill="none"/>
<path d="M100.5 45.5H612.5V431.5H100.5Z" stroke="#000" stroke-width="1" fill="none"/>
</svg></body></html>
